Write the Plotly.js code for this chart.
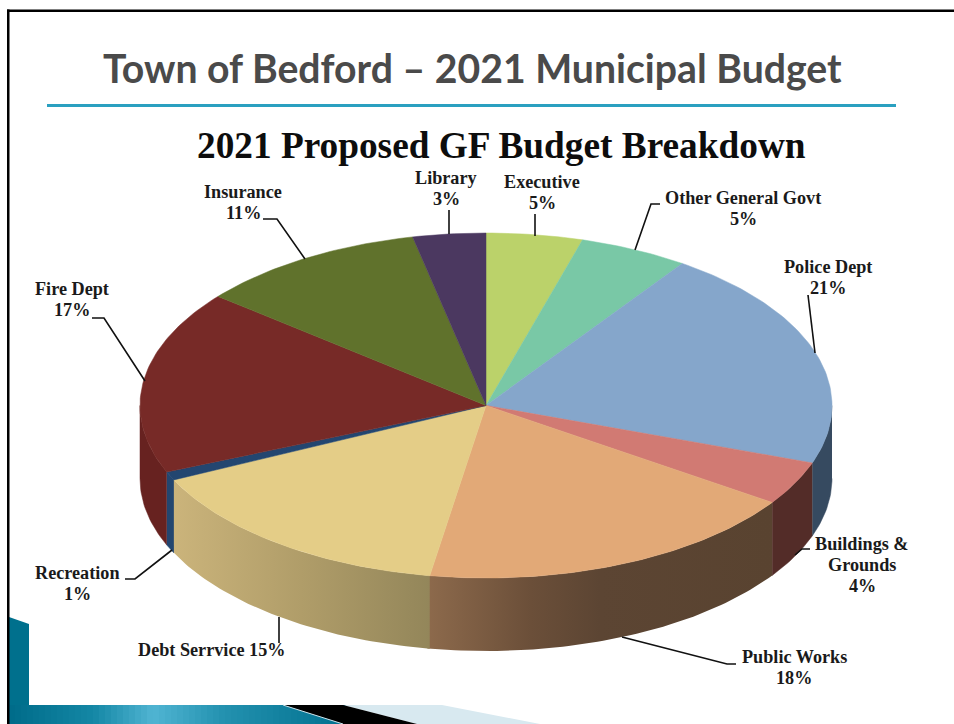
<!DOCTYPE html>
<html>
<head>
<meta charset="utf-8">
<script src="https://cdn.plot.ly/plotly-3.0.1.min.js"></script>
<style>html,body{margin:0;padding:0;background:#fff}#chart{width:954px;height:724px}</style>
</head>
<body>
<div id="chart"></div>
<script>
// Data
var categories = ["Executive","Other General Govt","Police Dept","Buildings &<br>Grounds","Public Works","Debt Serrvice","Recreation","Fire Dept","Insurance","Library"];
var shownPercent = [5,5,21,4,18,15,1,17,11,3];
var sliceShares = [4.5,5.1,20.8,4.1,18.1,15.3,0.8,17.2,10.7,3.4];
var topColors = ["#bbd26a","#79c8a6","#85a6cb","#d17a73","#e2a977","#e4cd87","#234670","#772a27","#60722c","#4b3860"];
var wallColors = ["#8ca04f","#5b977d","#364a60","#532c28",null,null,"#234670","#672220","#48561f","#382a48"];

// Chart geometry
var cx = 486, cy = 405.5, rx = 346, ry = 172.5, depth = 73;
var wallGradients = {
  4: [[0,"#8d6a4c"],[0.3,"#6b4f39"],[0.5,"#5c4533"],[1,"#594330"]],
  5: [[0,"#cbb47b"],[0.5,"#b09d69"],[1,"#93865a"]]
};
function rimX(deg){ return cx + rx*Math.sin(deg*Math.PI/180); }
function rimY(deg){ return cy - ry*Math.cos(deg*Math.PI/180); }

var wallTraces = [], topTraces = [];
var start = 0;
sliceShares.forEach(function(share, i){
  var end = start + share*3.6, x = [cx], y = [cy], d;
  for(d = start; d < end; d += 1){ x.push(rimX(d)); y.push(rimY(d)); }
  x.push(rimX(end)); y.push(rimY(end)); x.push(cx); y.push(cy);
  topTraces.push({type:"scatter",mode:"lines",x:x,y:y,fill:"toself",fillcolor:topColors[i],
    line:{color:topColors[i],width:0.5},name:categories[i],hoverinfo:"name"});
  var a = Math.max(start,90), b = Math.min(end,270);
  if(b > a){
    // gradient walls overlap their neighbour slightly so no seam shows
    if(wallGradients[i]){ b += 0.4; }
    var wx = [], wy = [], bx = [], by = [];
    for(d = a; d < b; d += 1){ wx.push(rimX(d)); wy.push(rimY(d)); bx.push(rimX(d)); by.push(rimY(d)+depth); }
    wx.push(rimX(b)); wy.push(rimY(b)); bx.push(rimX(b)); by.push(rimY(b)+depth);
    var wt = {type:"scatter",mode:"lines",x:wx.concat(bx.reverse()),y:wy.concat(by.reverse()),fill:"toself",
      line:{width:0},hoverinfo:"skip",showlegend:false};
    if(wallGradients[i]){
      wt.fillgradient = {type:"horizontal",start:Math.min(rimX(a),rimX(b)),stop:Math.max(rimX(a),rimX(b)),
        colorscale: wallGradients[i]};
      wt.fillcolor = "#888888";
    } else { wt.fillcolor = wallColors[i]; wt.line = {color:wallColors[i],width:0.5}; }
    wallTraces.push(wt);
  }
  start = end;
});

// Label text: each line placed on its own so the line spacing matches
var labelAnchors = [[542,182],[743,198],[828,267],[862,544],[794,657],[211,650],[77,573],[72,289],[243,192],[446,178]];
var lineGap = 21;
var annotations = [];
function addLine(x,y,text){
  annotations.push({x:x,y:y,xref:"x",yref:"y",showarrow:false,xanchor:"center",yanchor:"middle",
    text:text,font:{family:"Liberation Serif",size:18.2,color:"#1a1a1a",weight:700}});
}
categories.forEach(function(c,i){
  var pct = shownPercent[i]+"%";
  var lines = (i === 5) ? [c+" "+pct] : c.split("<br>").concat([pct]);
  lines.forEach(function(t,j){ addLine(labelAnchors[i][0],labelAnchors[i][1]+j*lineGap,t); });
});
annotations.push({x:472,y:67,xref:"x",yref:"y",showarrow:false,xanchor:"center",yanchor:"middle",
  text:"Town of Bedford – 2021 Municipal Budget",font:{family:"Lato",size:39.2,color:"#4a4a4a",weight:700}});
annotations.push({x:501,y:145,xref:"x",yref:"y",showarrow:false,xanchor:"center",yanchor:"middle",
  text:"2021 Proposed GF Budget Breakdown",font:{family:"Liberation Serif",size:37.3,color:"#0d0d0d",weight:700}});

// Leader lines
var leaders = [
  "M535,236 L535,214","M635,250 L651,204 L660,204","M815,353 L808,295","M795,555 L802,549 L810,549",
  "M622,637 L727,664 L736,664","M279,617 L279,643","M172,550 L135,579 L125,579",
  "M145,381 L104,318 L92,318","M305,259 L277,219 L263,219","M449,234 L449,210"
];
var shapes = leaders.map(function(p){
  return {type:"path",path:p,xref:"x",yref:"y",layer:"above",line:{color:"#111111",width:1.6}};
});

// Slide decoration
function rect(x0,y0,x1,y1,c){ return {type:"rect",xref:"x",yref:"y",x0:x0,y0:y0,x1:x1,y1:y1,fillcolor:c,line:{width:0},layer:"below"}; }
function poly(p,c){ return {type:"path",path:p,xref:"x",yref:"y",fillcolor:c,line:{width:0},layer:"below"}; }
shapes.push(poly("M9,617 L29,624 L29,705 L9,705 Z","#00708d"));
var bandStops = [[9,[0,108,138]],[90,[20,135,165]],[150,[80,180,210]],[220,[35,145,175]],[345,[0,112,142]]];
for(var bx0 = 9; bx0 < 345; bx0 += 6){
  var k = 0; while(k < bandStops.length-2 && bx0 > bandStops[k+1][0]) k++;
  var t = (bx0-bandStops[k][0])/(bandStops[k+1][0]-bandStops[k][0]);
  var col = [0,1,2].map(function(n){ return Math.round(bandStops[k][1][n]+t*(bandStops[k+1][1][n]-bandStops[k][1][n])); });
  shapes.push(rect(bx0,705,bx0+6.5,724,"rgb("+col.join(",")+")"));
}
shapes.push(poly("M343,705 L442,705 L540,724 L417,724 Z","#d8e9f0"));
shapes.push(poly("M283,705 L343,705 L417,724 L343,724 Z","#000000"));
shapes.push({type:"path",path:"M283,705 L343,724",xref:"x",yref:"y",layer:"below",line:{color:"#cfe6ee",width:1}});
shapes.push(rect(7,9.5,954,12,"#000000"));
shapes.push(rect(7,9.5,9.5,724,"#000000"));
shapes.push(rect(47,104,896,107,"#2aa0c0"));

Plotly.newPlot("chart", wallTraces.concat(topTraces), {
  width:954,height:724,margin:{l:0,r:0,t:0,b:0},paper_bgcolor:"#ffffff",plot_bgcolor:"rgba(0,0,0,0)",
  showlegend:false,
  xaxis:{range:[0,954],visible:false,fixedrange:true},
  yaxis:{range:[724,0],visible:false,fixedrange:true},
  annotations:annotations,shapes:shapes
},{displayModeBar:false,staticPlot:true});
</script>
</body>
</html>
